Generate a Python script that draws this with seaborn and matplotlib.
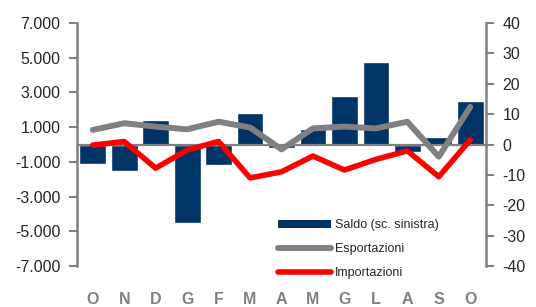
import numpy as np
import pandas as pd
import matplotlib
matplotlib.use("Agg")
import matplotlib.pyplot as plt
import seaborn as sns
from matplotlib.patches import Patch
from matplotlib.lines import Line2D

# Data

mesi = ["O", "N", "D", "G", "F", "M", "A", "M", "G", "L", "A", "S", "O"]
saldo = [-1100, -1550, 1400, -4550, -1200, 1800, -200, 900, 2800, 4750, -450, 450, 2500]
esportazioni = [4.8, 7.0, 5.9, 5.0, 7.5, 5.6, -1.6, 5.3, 5.9, 5.3, 7.5, -4.0, 12.4]
importazioni = [-0.2, 1.0, -7.8, -1.8, 1.0, -11.0, -9.0, -3.8, -8.4, -4.9, -2.1, -10.6, 1.5]

df = pd.DataFrame({
    "pos": np.arange(len(mesi)),
    "saldo": saldo,
    "esp": esportazioni,
    "imp": importazioni,
})

sns.set_style("white")
plt.rcParams["font.family"] = ["Liberation Sans", "DejaVu Sans"]

navy = "#003366"
grigio = "#808080"
rosso = "#FF0000"

fig = plt.figure(figsize=(5.36, 3.07), dpi=100)
ax = fig.add_axes([0.1437, 0.1336, 0.763, 0.7914])

# Bars (left axis)
sns.barplot(data=df, x="pos", y="saldo", color=navy, saturation=1,
            width=0.85, ax=ax, zorder=2)
ax.axhline(0, color=grigio, lw=1.6, zorder=3)

ax.set_ylim(-7000, 7000)
ax.set_xlim(-0.5, len(mesi) - 0.5)
ax.set_yticks(np.arange(-7000, 7001, 2000))
ax.set_yticklabels([f"{v:,}".replace(",", ".") for v in range(-7000, 7001, 2000)],
                   fontsize=11.5)
ax.set_xticks(df["pos"])
ax.set_xticklabels(mesi, fontsize=11.5, fontweight="bold", color=grigio)
ax.tick_params(axis="x", length=0, pad=19)
ax.tick_params(axis="y", length=6, width=1.5, color=grigio, direction="out", pad=6)
ax.set_xlabel("")
ax.set_ylabel("")
for s in ["top", "right", "bottom"]:
    ax.spines[s].set_visible(False)
ax.spines["left"].set_color(grigio)
ax.spines["left"].set_linewidth(1.8)

# Lines (right axis)
ax2 = ax.twinx()
sns.lineplot(data=df, x="pos", y="esp", color=grigio, lw=4.3, ax=ax2, zorder=4)
sns.lineplot(data=df, x="pos", y="imp", color=rosso, lw=4.0, ax=ax2, zorder=5)
ax2.set_ylim(-40, 40)
ax2.set_yticks(np.arange(-40, 41, 10))
ax2.set_yticklabels([str(v) for v in range(-40, 41, 10)], fontsize=11.5)
ax2.tick_params(axis="y", length=6, width=1.5, color=grigio, direction="out", pad=6)
ax2.set_ylabel("")
ax2.set_xlabel("")
for s in ["top", "left", "bottom"]:
    ax2.spines[s].set_visible(False)
ax2.spines["right"].set_color(grigio)
ax2.spines["right"].set_linewidth(1.8)

# Legend
handles = [
    Patch(facecolor=navy, edgecolor="none"),
    Line2D([0], [0], color=grigio, lw=4.3),
    Line2D([0], [0], color=rosso, lw=4.0),
]
labels = ["Saldo (sc. sinistra)", "Esportazioni", "Importazioni"]
ax2.legend(handles, labels, loc="lower left", bbox_to_anchor=(0.465, -0.1),
           frameon=False, prop={"size": 9},
           handlelength=4.2, handleheight=0.6, handletextpad=0.3, labelspacing=0.95)

plt.savefig("out.png", dpi=100)
